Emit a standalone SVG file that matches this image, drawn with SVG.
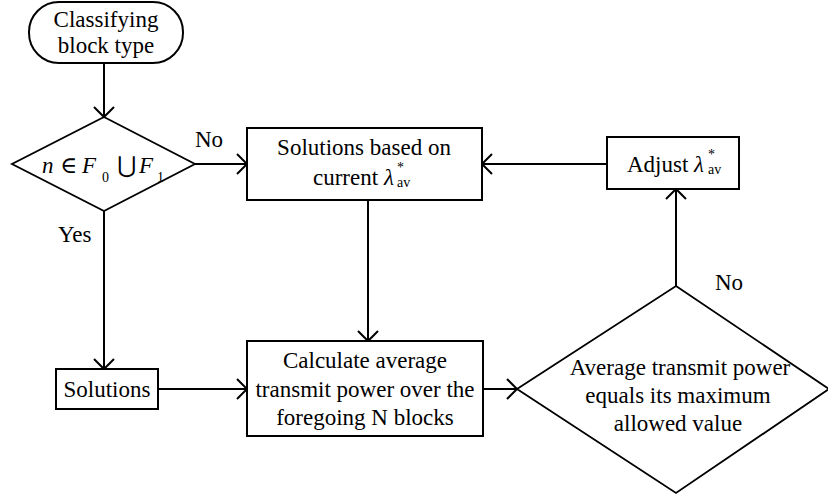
<svg xmlns="http://www.w3.org/2000/svg" width="828" height="498" viewBox="0 0 828 498" font-family="'Liberation Serif', 'Times New Roman', 'DejaVu Serif', serif">
<style>
.shape{fill:#fff;stroke:#000;stroke-width:2}
.dia{fill:none;stroke:#000;stroke-width:1.8}
.conn{fill:none;stroke:#000;stroke-width:2}
text{font-family:'Liberation Serif','Times New Roman','DejaVu Serif',serif;font-size:23px;fill:#000}
.c{text-anchor:middle}
.it{font-style:italic}
.sm{font-size:14px}
.math{font-family:'DejaVu Serif','DejaVu Sans',serif}
</style>
<defs>
<marker id="arr" markerUnits="userSpaceOnUse" markerWidth="14" markerHeight="24" refX="11" refY="11" orient="auto" viewBox="0 0 14 24">
<path d="M1,1 L11,11 L1,21" fill="none" stroke="#000" stroke-width="2"/>
</marker>
</defs>
<rect width="828" height="498" fill="#fff"/>

<g id="connectors">
<line class="conn" x1="104" y1="63" x2="104" y2="117" marker-end="url(#arr)"/>
<line class="conn" x1="195" y1="164" x2="247" y2="164" marker-end="url(#arr)"/>
<line class="conn" x1="104" y1="211" x2="104" y2="369" marker-end="url(#arr)"/>
<line class="conn" x1="158" y1="389" x2="247" y2="389" marker-end="url(#arr)"/>
<line class="conn" x1="368" y1="200" x2="368" y2="341" marker-end="url(#arr)"/>
<line class="conn" x1="483" y1="389" x2="517" y2="389" marker-end="url(#arr)"/>
<line class="conn" x1="676" y1="286" x2="676" y2="189" marker-end="url(#arr)"/>
<line class="conn" x1="607" y1="164" x2="482" y2="164" marker-end="url(#arr)"/>
<text x="195" y="147">No</text>
<text x="58" y="242">Yes</text>
<text x="715" y="290">No</text>
</g>

<g id="start">
<rect class="shape" x="29" y="2" width="154" height="61" rx="30" ry="30"/>
<text class="c" x="106" y="27">Classifying</text>
<text class="c" x="106" y="53">block type</text>
</g>

<g id="decision1">
<polygon class="dia" points="104,117 195,164 104,211 12,164"/>
<text x="42" y="173" class="it" font-size="25">n</text>
<text x="60" y="173" class="math" font-size="20">∈</text>
<text x="82" y="173" class="it" font-size="25">F</text>
<text x="102" y="182" class="sm">0</text>
<text x="117" y="173" class="math" font-size="24">⋃</text>
<text x="139" y="173" class="it" font-size="25">F</text>
<text x="157" y="182" class="sm">1</text>
</g>

<g id="solutions-current">
<rect class="shape" x="247" y="128" width="235" height="72"/>
<text class="c" x="364" y="155">Solutions based on</text>
<text x="313" y="185">current <tspan class="it">λ</tspan></text>
<text x="397" y="172" class="sm">*</text>
<text x="397" y="187" class="sm">av</text>
</g>

<g id="adjust">
<rect class="shape" x="607" y="137" width="132" height="52"/>
<text x="627" y="172">Adjust <tspan class="it">λ</tspan></text>
<text x="708" y="159" class="sm">*</text>
<text x="708" y="174" class="sm">av</text>
</g>

<g id="solutions">
<rect class="shape" x="56" y="369" width="102" height="40"/>
<text class="c" x="107" y="397">Solutions</text>
</g>

<g id="calculate">
<rect class="shape" x="247" y="341" width="236" height="95"/>
<text class="c" x="365" y="368">Calculate average</text>
<text class="c" x="365" y="397">transmit power over the</text>
<text class="c" x="365" y="425">foregoing N blocks</text>
</g>

<g id="decision2">
<polygon class="dia" points="676,286 829,389 676,493 517,389"/>
<text class="c" x="680" y="375">Average transmit power</text>
<text class="c" x="678" y="403">equals its maximum</text>
<text class="c" x="678" y="431">allowed value</text>
</g>
</svg>
